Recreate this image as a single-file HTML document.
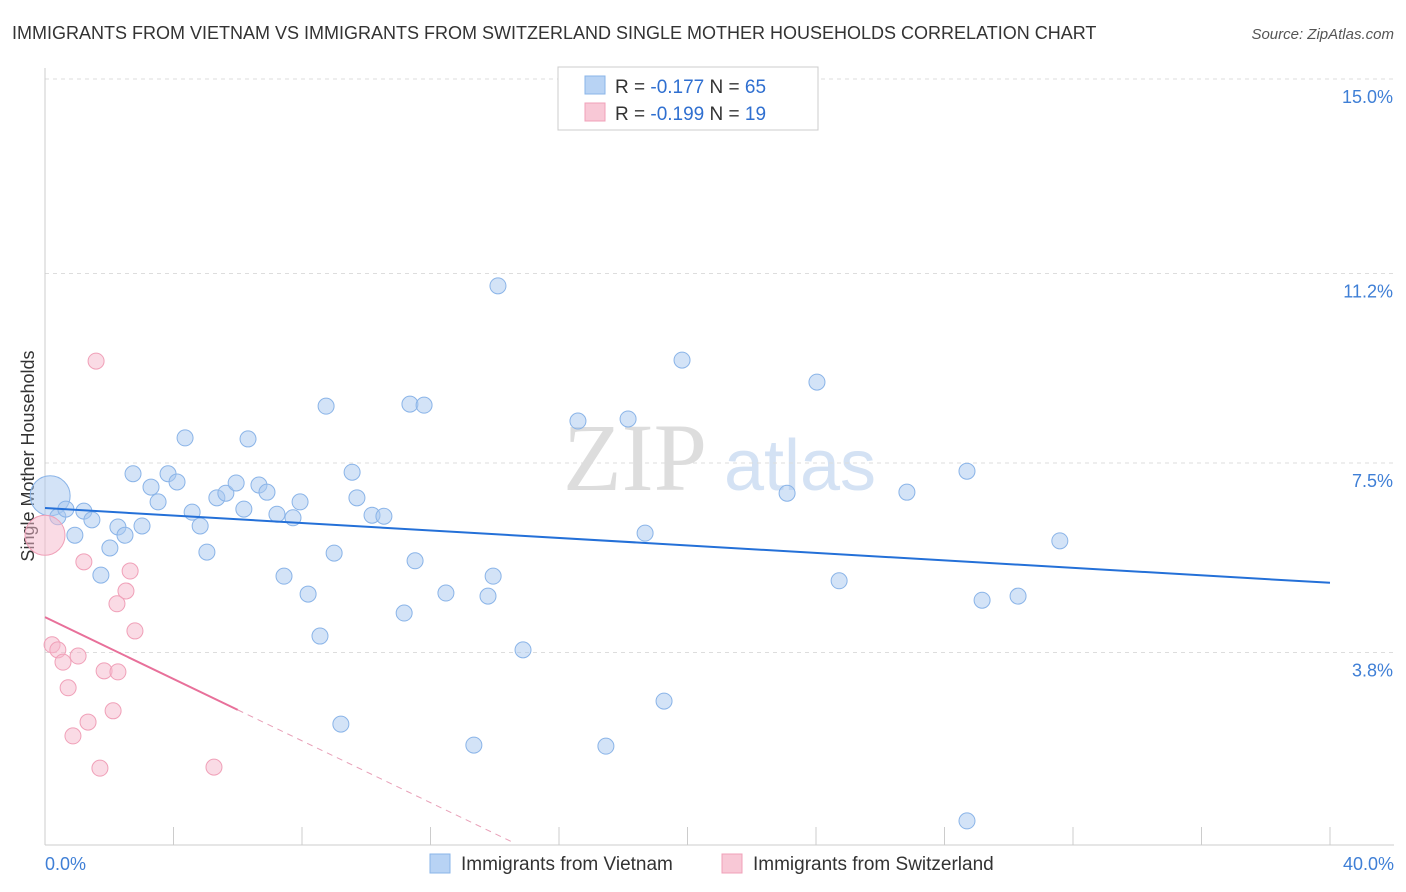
<!DOCTYPE html>
<html><head><meta charset="utf-8"><style>
body{margin:0;background:#fff;font-family:"Liberation Sans",sans-serif;}
svg{display:block}
</style></head><body>
<svg id="chart" width="1406" height="892">
<text x="12" y="39" font-size="18" fill="#333">IMMIGRANTS FROM VIETNAM VS IMMIGRANTS FROM SWITZERLAND SINGLE MOTHER HOUSEHOLDS CORRELATION CHART</text>
<text x="1394" y="39" font-size="15" fill="#555" font-style="italic" text-anchor="end">Source: ZipAtlas.com</text>
<text x="635" y="490" font-size="96" fill="#ddd" font-family="Liberation Serif,serif" text-anchor="middle">ZIP</text>
<text x="800" y="490" font-size="72" fill="#d4e2f4" text-anchor="middle">atlas</text>
<text transform="translate(34,456) rotate(-90)" font-size="18" fill="#333" text-anchor="middle">Single Mother Households</text>
<g id="grid"></g><g id="marks"></g>
<g>
<rect x="558" y="67" width="260" height="63" fill="#fff" stroke="#ccc"/>
<rect x="585" y="76" width="20" height="18" fill="#b8d3f4" stroke="#8ab4e8"/>
<rect x="585" y="103" width="20" height="18" fill="#f8c8d6" stroke="#f0a0b8"/>
<text x="615" y="93" font-size="19" fill="#333">R = <tspan fill="#2f6fd0">-0.177</tspan>   N = <tspan fill="#2f6fd0">65</tspan></text>
<text x="615" y="120" font-size="19" fill="#333">R = <tspan fill="#2f6fd0">-0.199</tspan>   N =  <tspan fill="#2f6fd0">19</tspan></text>
</g>
<g>
<rect x="430" y="854" width="20" height="19" fill="#b8d3f4" stroke="#8ab4e8"/>
<text x="461" y="870" font-size="19" fill="#333">Immigrants from Vietnam</text>
<rect x="722" y="854" width="20" height="19" fill="#f8c8d6" stroke="#f0a0b8"/>
<text x="753" y="870" font-size="19" fill="#333">Immigrants from Switzerland</text>
</g>
</svg>
<script>
const yTicks=[15.0,11.2,7.5,3.8];
const yTickLabels=["15.0%","11.2%","7.5%","3.8%"];
const xTicks=[0,4,8,12,16,20,24,28,32,36,40];
const vietnamX=[0.16,0.40,0.65,0.93,1.21,1.46,1.74,2.02,2.27,2.49,2.74,3.02,3.30,3.52,3.83,4.11,4.36,4.58,4.83,5.04,5.35,5.63,5.95,6.19,6.32,6.66,6.91,7.22,7.44,7.72,7.94,8.19,8.56,8.75,9.00,9.21,9.56,9.71,10.18,10.55,11.18,11.36,11.52,11.80,12.48,13.35,13.79,13.95,14.10,14.88,16.59,17.46,18.15,18.68,19.27,19.83,23.10,24.03,24.72,26.83,28.70,28.70,29.17,30.29,31.59];
const vietnamY=[6.86,6.45,6.60,6.09,6.56,6.39,5.31,5.84,6.25,6.09,7.29,6.27,7.03,6.74,7.29,7.13,7.99,6.54,6.27,5.76,6.82,6.91,7.11,6.60,7.97,7.07,6.93,6.50,5.29,6.43,6.74,4.94,4.12,8.61,5.74,2.40,7.32,6.82,6.48,6.46,4.57,8.65,5.59,8.63,4.96,1.99,4.90,5.29,10.96,3.85,8.32,1.97,8.36,6.13,2.85,9.51,6.91,9.08,5.20,6.93,7.34,0.51,4.82,4.90,5.98];
const swissX=[0.00,0.22,0.40,0.56,0.72,0.87,1.03,1.21,1.34,1.59,1.71,1.84,2.12,2.24,2.27,2.52,2.65,2.80,5.26];
const swissY=[6.09,3.95,3.85,3.61,3.11,2.17,3.73,5.57,2.44,9.49,1.54,3.44,2.66,4.75,3.42,5.00,5.39,4.22,1.56];
const vietnamTrend=[6.62,5.16];
const swissTrend=[4.49,0.302];
const NS="http://www.w3.org/2000/svg";
const X=v=>45+v*32.125, Y=v=>79+(15-v)*51.2;
const grid=document.getElementById('grid'), marks=document.getElementById('marks');
function mk(p,tag,a){const e=document.createElementNS(NS,tag);for(const k in a)e.setAttribute(k,a[k]);p.appendChild(e);return e;}
yTicks.forEach((t,i)=>{
 const l=mk(grid,'line',{x1:45,x2:1394,y1:Y(t),y2:Y(t),stroke:'#ddd','stroke-dasharray':'4,4'});
 
 
 const tx=mk(grid,'text',{x:1393,y:Y(t)+24,'font-size':18,fill:'#3f7fd6','text-anchor':'end'});
 tx.textContent=yTickLabels[i];
 
 
});
const ax=mk(grid,'line',{x1:45,x2:1394,y1:845,y2:845,stroke:'#ccc'});


const ay=mk(grid,'line',{x1:45,x2:45,y1:68,y2:845,stroke:'#ccc'});


xTicks.forEach(t=>{
 const l=mk(grid,'line',{x1:X(t),x2:X(t),y1:827,y2:845,stroke:'#ccc'});
 
 
});
[[0,"0.0%","start",45],[40,"40.0%","end",1394]].forEach(d=>{
 const tx=mk(grid,'text',{x:d[3],y:870,'font-size':18,fill:'#3f7fd6','text-anchor':d[2]});
 tx.textContent=d[1];
 
 
});
vietnamX.forEach((x,i)=>{
 const c=mk(marks,'circle',{cx:X(x),cy:Y(vietnamY[i]),r:i===0?20:8,fill:'rgba(168,200,240,0.5)',stroke:'#8ab4e8','stroke-width':1});
 
 
});
swissX.forEach((x,i)=>{
 const c=mk(marks,'circle',{cx:X(x),cy:Y(swissY[i]),r:i===0?20:8,fill:'rgba(246,184,204,0.5)',stroke:'#f0a0b8','stroke-width':1});
 
 
});
const bl=mk(marks,'line',{x1:X(0),y1:Y(vietnamTrend[0]),x2:X(40),y2:Y(vietnamTrend[1]),stroke:'#2470d8','stroke-width':2});


const sy=x=>swissTrend[0]-swissTrend[1]*x;
const pl=mk(marks,'line',{x1:X(0),y1:Y(sy(0)),x2:X(6),y2:Y(sy(6)),stroke:'#e8709a','stroke-width':2});


const pd=mk(marks,'line',{x1:X(6),y1:Y(sy(6)),x2:X(14.6),y2:Y(sy(14.6)),stroke:'#e8a0b8','stroke-width':1,'stroke-dasharray':'6,5'});


</script>
</body></html>
